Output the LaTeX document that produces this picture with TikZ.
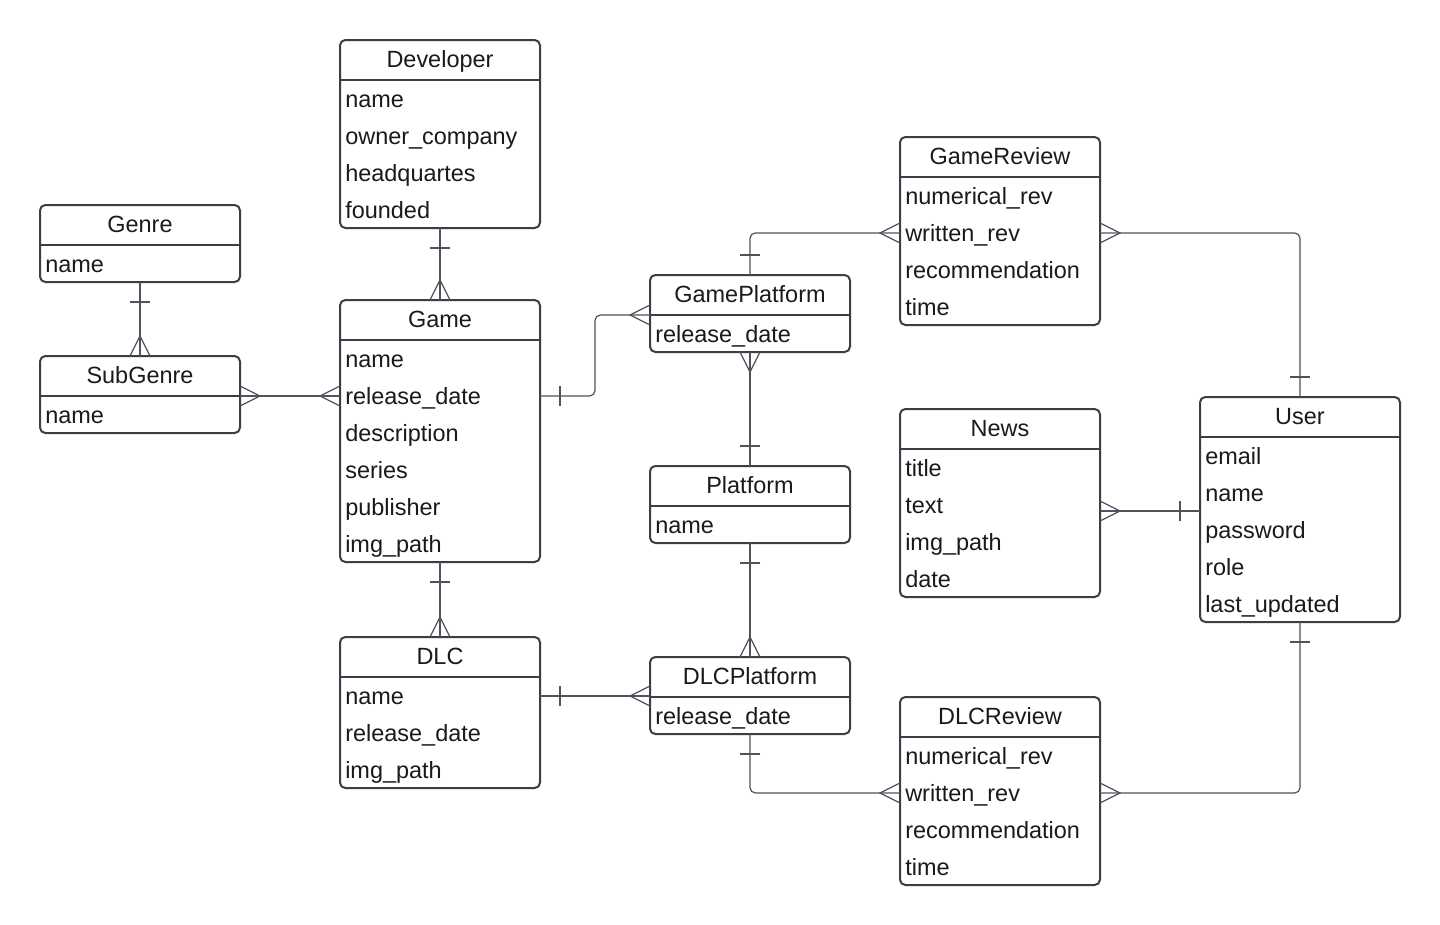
\documentclass[tikz,border=0pt]{standalone}
\usepackage{fontspec}
\setmainfont{Liberation Sans}
\usetikzlibrary{fit,calc}
\definecolor{boxc}{HTML}{3A3F47}
\definecolor{connc}{HTML}{4E535C}
\definecolor{textc}{HTML}{1A1A1A}
\tikzset{
  entbox/.style={draw=boxc, line width=1.5pt, rounded corners=4pt, fill=white, inner sep=0pt, outer sep=0pt},
  boxline/.style={draw=boxc, line width=1.5pt},
  enttext/.style={font=\fontsize{17.6}{20}\selectfont, text=textc, inner sep=0pt},
  conn/.style={draw=connc, line width=0.9pt, rounded corners=4pt},
  ermark/.style={draw=connc, line width=0.9pt},
  onebar/.pic={\draw[ermark] (20,-10) -- (20,10);},
  crowfoot/.pic={\draw[ermark] (0,-10) -- (20,0) -- (0,10);},
}
\newcommand\erent[6]{%
  \node[entbox, fit={(#2,#3) (#2+200,#3+40+37*#4)}] (#1) {};
  \draw[boxline] (#2,#3+40) -- (#2+200,#3+40);
  \node[enttext, anchor=base] (#1-title) at (#2+100,#3+27.5) {#5};
  \foreach \r [count=\i] in {#6} {\node[enttext, anchor=base west] (#1-\i) at (#2+5,#3+40+27+37*\i-37) {\r};}
}
\begin{document}
\begin{tikzpicture}[x=0.75pt,y=-0.75pt]
\useasboundingbox[fill=white] (0,0) rectangle (1440,925);

\coordinate (gR) at (540,396);
\coordinate (gpL) at (650,315);
\coordinate (grL) at (900,233);
\coordinate (grR) at (1100,233);
\coordinate (dlcR) at (540,696);
\coordinate (dlcpL) at (650,696);
\coordinate (drL) at (900,793);
\coordinate (drR) at (1100,793);
\coordinate (newsR) at (1100,511);
\coordinate (userL) at (1200,511);
\coordinate (sgR) at (240,396);
\coordinate (gameL) at (340,396);

\erent{dev}{340}{40}{4}{Developer}{name,owner\_company,headquartes,founded}
\erent{genre}{40}{205}{1}{Genre}{name}
\erent{subgenre}{40}{356}{1}{SubGenre}{name}
\erent{game}{340}{300}{6}{Game}{name,release\_date,description,series,publisher,img\_path}
\erent{dlc}{340}{637}{3}{DLC}{name,release\_date,img\_path}
\erent{gp}{650}{275}{1}{GamePlatform}{release\_date}
\erent{plat}{650}{466}{1}{Platform}{name}
\erent{dlcp}{650}{657}{1}{DLCPlatform}{release\_date}
\erent{gr}{900}{137}{4}{GameReview}{numerical\_rev,written\_rev,recommendation,time}
\erent{news}{900}{409}{4}{News}{title,text,img\_path,date}
\erent{user}{1200}{397}{5}{User}{email,name,password,role,last\_updated}
\erent{dr}{900}{697}{4}{DLCReview}{numerical\_rev,written\_rev,recommendation,time}

% Developer - Game
\draw[conn] (dev.south) -- (game.north);
\pic[rotate=-90] at (dev.south) {onebar};
\pic[rotate=90] at (game.north) {crowfoot};
% Genre - SubGenre
\draw[conn] (genre.south) -- (subgenre.north);
\pic[rotate=-90] at (genre.south) {onebar};
\pic[rotate=90] at (subgenre.north) {crowfoot};
% SubGenre - Game
\draw[conn] (sgR) -- (gameL);
\pic at (sgR) {crowfoot};
\pic[rotate=180] at (gameL) {crowfoot};
% Game - GamePlatform
\draw[conn] (gR) -- ++(55,0) |- (gpL);
\pic at (gR) {onebar};
\pic[rotate=180] at (gpL) {crowfoot};
% GamePlatform - GameReview
\draw[conn] (gp.north) |- (grL);
\pic[rotate=90] at (gp.north) {onebar};
\pic[rotate=180] at (grL) {crowfoot};
% GamePlatform - Platform
\draw[conn] (gp.south) -- (plat.north);
\pic[rotate=-90] at (gp.south) {crowfoot};
\pic[rotate=90] at (plat.north) {onebar};
% Platform - DLCPlatform
\draw[conn] (plat.south) -- (dlcp.north);
\pic[rotate=-90] at (plat.south) {onebar};
\pic[rotate=90] at (dlcp.north) {crowfoot};
% Game - DLC
\draw[conn] (game.south) -- (dlc.north);
\pic[rotate=-90] at (game.south) {onebar};
\pic[rotate=90] at (dlc.north) {crowfoot};
% DLC - DLCPlatform
\draw[conn] (dlcR) -- (dlcpL);
\pic at (dlcR) {onebar};
\pic[rotate=180] at (dlcpL) {crowfoot};
% DLCPlatform - DLCReview
\draw[conn] (dlcp.south) |- (drL);
\pic[rotate=-90] at (dlcp.south) {onebar};
\pic[rotate=180] at (drL) {crowfoot};
% User - GameReview
\draw[conn] (user.north) |- (grR);
\pic[rotate=90] at (user.north) {onebar};
\pic at (grR) {crowfoot};
% News - User
\draw[conn] (newsR) -- (userL);
\pic at (newsR) {crowfoot};
\pic[rotate=180] at (userL) {onebar};
% User - DLCReview
\draw[conn] (user.south) |- (drR);
\pic[rotate=-90] at (user.south) {onebar};
\pic at (drR) {crowfoot};
\end{tikzpicture}
\end{document}
